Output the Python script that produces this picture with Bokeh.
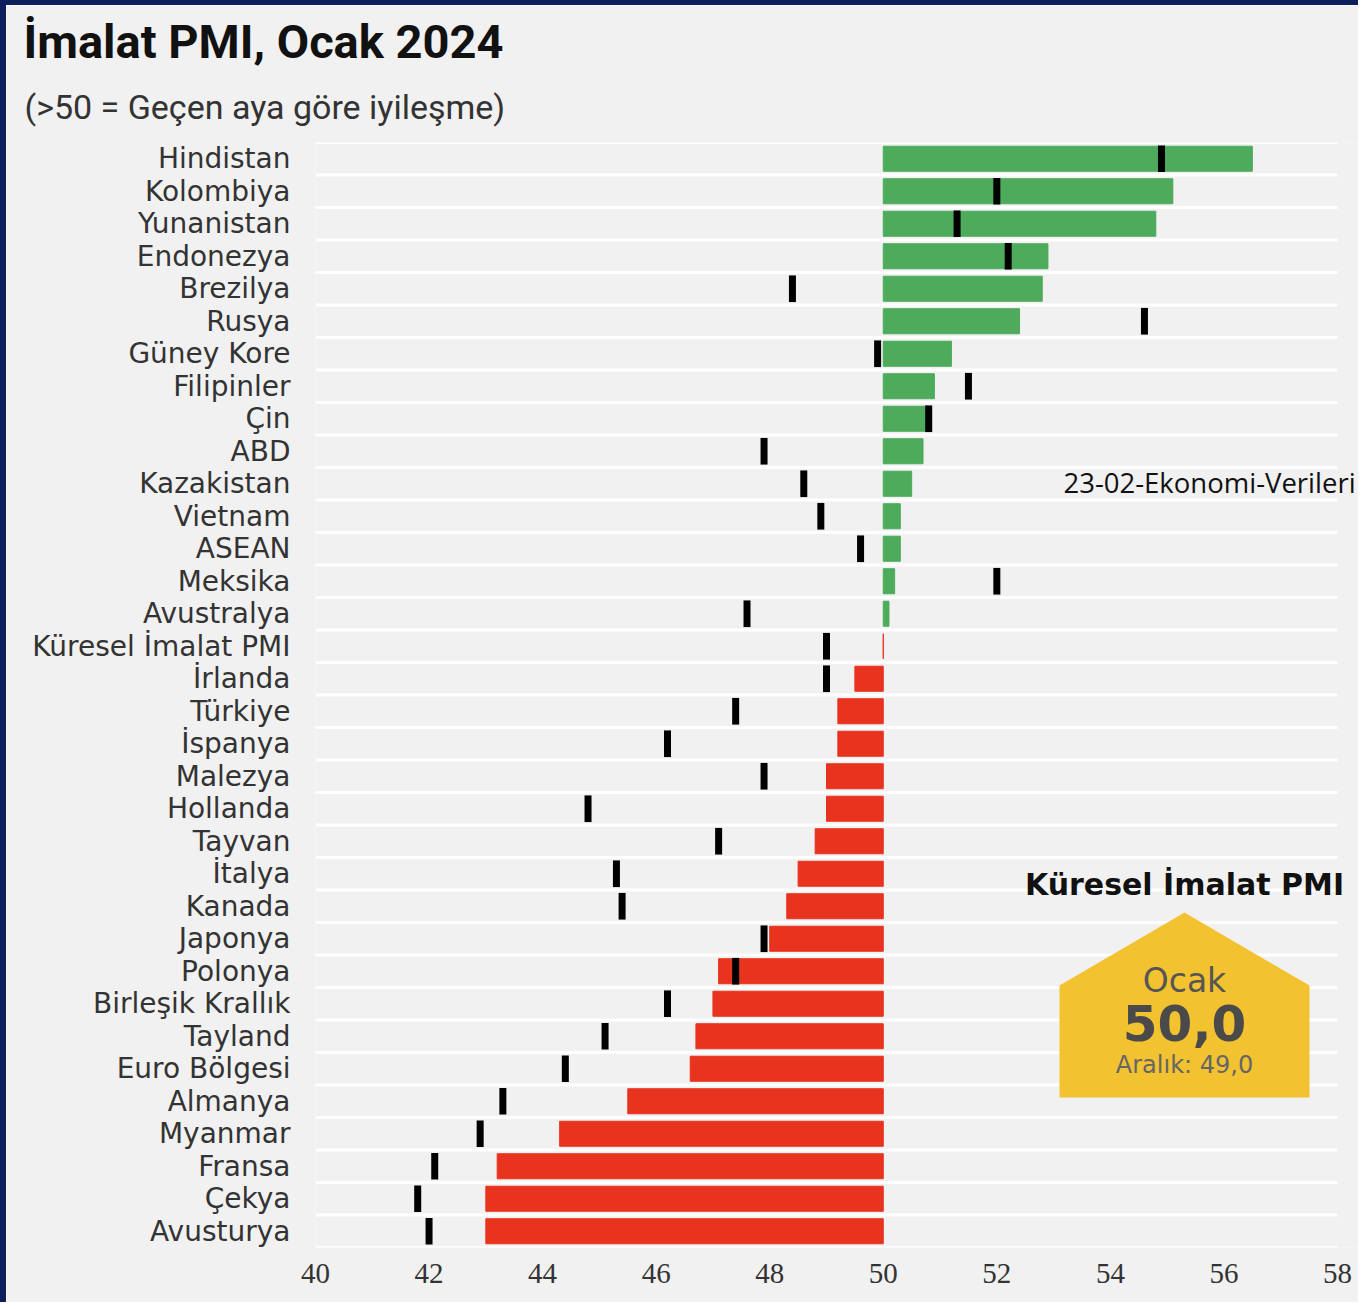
from bokeh.plotting import figure
from bokeh.models import Range1d, FixedTicker, Label, Title, ColumnDataSource
from bokeh.embed import file_html
from bokeh.resources import INLINE

# ---------------- data ----------------
countries = ["Hindistan", "Kolombiya", "Yunanistan", "Endonezya", "Brezilya", "Rusya",
             "Güney Kore", "Filipinler", "Çin", "ABD", "Kazakistan", "Vietnam", "ASEAN",
             "Meksika", "Avustralya", "Küresel İmalat PMI", "İrlanda", "Türkiye", "İspanya",
             "Malezya", "Hollanda", "Tayvan", "İtalya", "Kanada", "Japonya", "Polonya",
             "Birleşik Krallık", "Tayland", "Euro Bölgesi", "Almanya", "Myanmar", "Fransa",
             "Çekya", "Avusturya"]
jan_2024 = [56.5, 55.1, 54.8, 52.9, 52.8, 52.4,
            51.2, 50.9, 50.8, 50.7, 50.5, 50.3, 50.3,
            50.2, 50.1, 50.0, 49.5, 49.2, 49.2,
            49.0, 49.0, 48.8, 48.5, 48.3, 48.0, 47.1,
            47.0, 46.7, 46.6, 45.5, 44.3, 43.2,
            43.0, 43.0]
dec_2023 = [54.9, 52.0, 51.3, 52.2, 48.4, 54.6,
            49.9, 51.5, 50.8, 47.9, 48.6, 48.9, 49.6,
            52.0, 47.6, 49.0, 49.0, 47.4, 46.2,
            47.9, 44.8, 47.1, 45.3, 45.4, 47.9, 47.4,
            46.2, 45.1, 44.4, 43.3, 42.9, 42.1,
            41.8, 42.0]
x_ticks = [40, 42, 44, 46, 48, 50, 52, 54, 56, 58]
global_name = "Küresel İmalat PMI"

# ---------------- styles ----------------
BG = "#f1f1f1"
GREEN = "#4dab5b"
RED = "#e8331f"
YELLOW = "#f2c230"
NAVY = "#0c1f5c"
LFONT = "DejaVu Sans"

n = len(countries)
src = ColumnDataSource(dict(
    y=list(range(n)),
    name=countries,
    jan=jan_2024,
    dec=dec_2023,
    left=[min(v, 50.0) for v in jan_2024],
    right=[max(v, 50.0) for v in jan_2024],
    color=[GREEN if v > 50 else RED for v in jan_2024],
))

W, H = 1358, 1302
OX, OY = 5, 5               # canvas origin on page (border)
FL, FR = 314, 1336          # axis 40..58 span on page
FT, FB = 141.75, 1247.0     # frame top/bottom on page

ux = (FR - FL) / float(x_ticks[-1] - x_ticks[0])
uy = (FB - FT) / n


def px2x(px):
    return x_ticks[0] + (px - FL) / ux


def py2y(py):
    return -0.5 + (py - FT) / uy


# frame runs to the right edge of the canvas so right-hand texts are not clipped
p = figure(width=W, height=H,
           x_range=Range1d(x_ticks[0], px2x(OX + W)), y_range=Range1d(n - 0.5, -0.5),
           output_backend="svg", toolbar_location=None,
           min_border_left=FL - OX, min_border_right=0,
           min_border_top=int(round(FT - OY)), min_border_bottom=int(round(H - (FB - OY))),
           background_fill_color=BG, border_fill_color=BG, outline_line_color=None)
p.styles = {"border-top": f"5px solid {NAVY}", "border-left": f"6px solid {NAVY}"}

# titles (subtitle added first -> closest to the frame)
p.add_layout(Title(text="(>50 = Geçen aya göre iyileşme)", align="left", offset=23 - FL,
                   text_font="Roboto", text_font_size="34px", text_font_style="normal",
                   text_color="#333333", standoff=32), "above")
p.add_layout(Title(text="İmalat PMI, Ocak 2024", align="left", offset=22 - FL,
                   text_font="Roboto", text_font_size="47px", text_font_style="bold",
                   text_color="#111111", standoff=0), "above")

# axes
p.xaxis.ticker = FixedTicker(ticks=x_ticks)
p.xaxis.axis_line_color = None
p.xaxis.major_tick_line_color = None
p.xaxis.minor_tick_line_color = None
p.xaxis.major_label_text_font = "Liberation Sans Narrow"
p.xaxis.major_label_text_font_size = "29px"
p.xaxis.major_label_text_color = "#333333"
p.xaxis.major_label_standoff = 10

p.yaxis.ticker = FixedTicker(ticks=list(range(n)))
p.yaxis.major_label_overrides = {i: c for i, c in enumerate(countries)}
p.yaxis.axis_line_color = None
p.yaxis.major_tick_line_color = None
p.yaxis.minor_tick_line_color = None
p.yaxis.major_label_text_font = LFONT
p.yaxis.major_label_text_font_size = "28px"
p.yaxis.major_label_text_color = "#333333"
p.yaxis.major_label_standoff = 19

p.xgrid.grid_line_color = None
p.ygrid.grid_line_color = None

# white row separators across the 40..58 span
bounds = [i - 0.5 for i in range(n + 1)]
p.segment(x0=[x_ticks[0]] * len(bounds), x1=[x_ticks[-1]] * len(bounds),
          y0=bounds, y1=bounds, line_color="white", line_width=3)

# bars and December markers
p.hbar(y="y", left="left", right="right", height=0.77, source=src,
       fill_color="color", line_color="color", line_width=1)
p.rect(x="dec", y="y", width=7, width_units="screen", height=0.82, source=src,
       fill_color="black", line_color=None)


def label(px, py, text, font, size, color, bold=False, align="left"):
    p.add_layout(Label(x=px2x(px), y=py2y(py), text=text,
                       text_font=font, text_font_size=size,
                       text_font_style="bold" if bold else "normal",
                       text_color=color, text_baseline="middle", text_align=align))


# watermark
label(1062, 482, "23-02-Ekonomi-Verileri", "Open Sans", "27.5px", "#111111")

# global PMI badge
gi = countries.index(global_name)
g_jan = f"{jan_2024[gi]:.1f}".replace(".", ",")
g_dec = f"{dec_2023[gi]:.1f}".replace(".", ",")
bx = [px2x(1058), px2x(1058), px2x(1183), px2x(1308), px2x(1308)]
by = [py2y(1097), py2y(985), py2y(912), py2y(985), py2y(1097)]
p.patch(bx, by, fill_color=YELLOW, line_color=None)
label(1183, 884, global_name, LFONT, "30px", "#111111", bold=True, align="center")
label(1183, 980, "Ocak", LFONT, "33px", "#555555", align="center")
label(1183, 1022, g_jan, LFONT, "50px", "#4a4a4a", bold=True, align="center")
label(1183, 1064, f"Aralık: {g_dec}", LFONT, "24px", "#666666", align="center")

open("out.html", "w").write(file_html(p, INLINE))
